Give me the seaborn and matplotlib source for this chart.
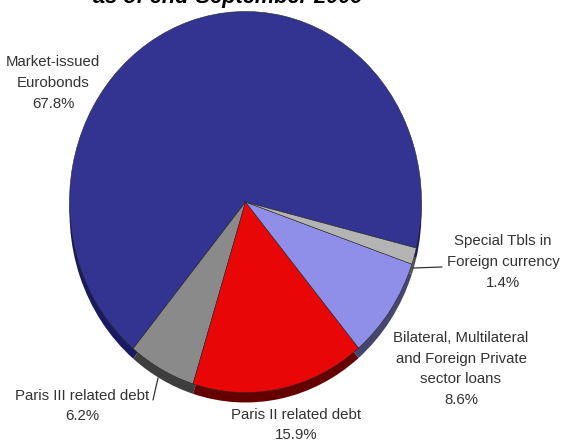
import matplotlib
matplotlib.use("Agg")
import matplotlib.pyplot as plt
import seaborn as sns

# External public debt composition, share of total (%)
categories = ["Market-issued\nEurobonds", "Paris III related debt", "Paris II related debt",
              "Bilateral, Multilateral\nand Foreign Private\nsector loans",
              "Special Tbls in\nForeign currency"]
shares = [67.8, 6.2, 15.9, 8.6, 1.4]
face_colors = ["#333391", "#8a8a8a", "#e90606", "#8f8fe9", "#b4b4b4"]
side_colors = ["#1a1a60", "#3e3e3e", "#640000", "#45456e", "#555555"]
title_text = "as of end-September 2009"

sns.set_theme(style="white")
plt.rcParams["font.family"] = ["Liberation Sans", "DejaVu Sans"]

W, H = 563, 442
cx, cy, rx, ry = 245.5, 202, 176, 190.5
fig = plt.figure(figsize=(W / 100, H / 100), dpi=100)
ax = fig.add_axes([0, 0, 1, 1])


def px(x, y):
    """Pixel position to the unit-circle coordinates of the pie."""
    return (x - cx) / rx, (cy - y) / ry


# Side wall: the same pie dropped slightly, then the top face over it
ax.pie(shares, colors=sns.color_palette(side_colors), startangle=-14, counterclock=True,
       center=(0, -10 / ry), normalize=True, radius=1, wedgeprops=dict(linewidth=0))
ax.pie(shares, colors=sns.color_palette(face_colors), startangle=-14, counterclock=True,
       center=(0, 0), normalize=True, radius=1,
       wedgeprops=dict(linewidth=0.4, edgecolor="#2a2a2a"))
ax.set_aspect("auto")
ax.set_xlim(px(0, 0)[0], px(W, 0)[0])
ax.set_ylim(px(0, H)[1], px(0, 0)[1])

label_style = dict(ha="center", va="center", fontsize=10.8, color="#333333", linespacing=1.62)
labels_at = [(53, 83), (82, 406), (296, 425), (461, 369), (503, 262)]
for name, value, (lx, ly) in zip(categories, shares, labels_at):
    ax.text(*px(lx, ly), f"{name}\n{value}%", **label_style)

ax.text(*px(228, -3), title_text, ha="center", va="center", fontsize=15.7,
        fontweight="bold", fontstyle="italic", color="black")

# Leader lines for the two narrow slices
for (x0, y0), (x1, y1) in [((413, 268), (442, 267)), ((158, 378), (153, 400))]:
    p0, p1 = px(x0, y0), px(x1, y1)
    ax.plot([p0[0], p1[0]], [p0[1], p1[1]], color="#333333", lw=0.9)

fig.savefig("out.png", dpi=100)
